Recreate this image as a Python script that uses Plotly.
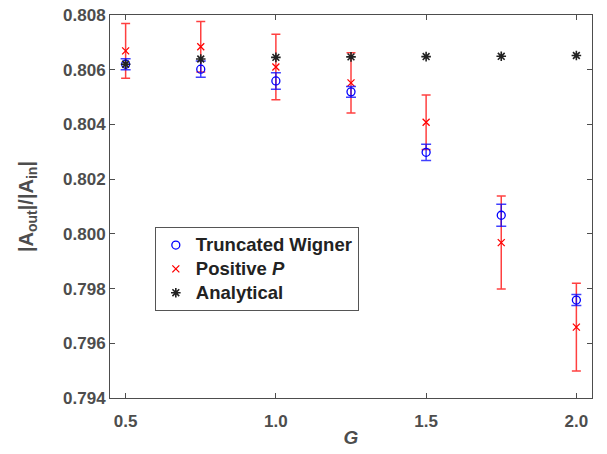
import plotly.graph_objects as go

G = [0.5, 0.75, 1.0, 1.25, 1.5, 1.75, 2.0]
tw_vals = [0.80620, 0.80602, 0.80559, 0.80519, 0.80298, 0.80068, 0.79758]
tw_err = [0.00020, 0.00030, 0.00030, 0.00020, 0.00030, 0.00040, 0.00020]
pp_vals = [0.80669, 0.80684, 0.80610, 0.80552, 0.80408, 0.79968, 0.79659]
pp_err = [0.00100, 0.00092, 0.00120, 0.00110, 0.00100, 0.00170, 0.00160]
an_vals = [0.80620, 0.80639, 0.80645, 0.80647, 0.80648, 0.80649, 0.80652]
y_ticks = [0.794, 0.796, 0.798, 0.800, 0.802, 0.804, 0.806, 0.808]
x_ticks = [0.5, 1.0, 1.5, 2.0]

FONT = "Liberation Sans"
AX = "#4d4d4d"


def big(s):
    return f"<span style='font-size:18.5px'>{s}</span>"


fig = go.Figure()
fig.add_trace(go.Scatter(
    x=G, y=pp_vals, mode="markers", name=big("Positive <i>P</i>"), legendrank=2,
    marker=dict(symbol="x-thin-open", size=7, color="red", line=dict(color="red", width=1.3)),
    error_y=dict(type="data", array=pp_err, visible=True, color="rgba(255,0,0,0.75)", thickness=1.5, width=4.5),
))
fig.add_trace(go.Scatter(
    x=G, y=tw_vals, mode="markers", name=big("Truncated Wigner"), legendrank=1,
    marker=dict(symbol="circle-open", size=8, color="blue", line=dict(color="blue", width=1.3)),
    error_y=dict(type="data", array=tw_err, visible=True, color="rgba(0,0,255,0.75)", thickness=1.5, width=5),
))
fig.add_trace(go.Scatter(
    x=G, y=an_vals, mode="markers", name=big("Analytical"), legendrank=3,
    marker=dict(symbol="asterisk-open", size=8, color="#222222", line=dict(color="#222222", width=1.6)),
))

fig.update_layout(
    width=607, height=454,
    margin=dict(l=110, r=15, t=15, b=56),
    paper_bgcolor="white", plot_bgcolor="white",
    font=dict(family=FONT, size=16, color=AX),
    showlegend=True,
    legend=dict(
        x=0.093, y=0.446, xanchor="left", yanchor="top",
        bordercolor="#555555", borderwidth=1, bgcolor="white",
        font=dict(family=FONT, size=16, color="#222222", weight="bold"),
        traceorder="normal", itemwidth=30, tracegroupgap=0,
    ),
)

fig.update_xaxes(
    range=[0.448, 2.052], tickvals=x_ticks, ticktext=[f"{v:.1f}" for v in x_ticks],
    ticks="inside", ticklen=5, tickcolor=AX, showline=True, linecolor=AX, linewidth=1,
    mirror="ticks", showgrid=False, zeroline=False, ticklabelstandoff=8, automargin=False,
    tickfont=dict(family=FONT, size=17, color=AX, weight="bold"),
    title=dict(text="<i>G</i>", font=dict(family=FONT, size=19, color=AX, weight="bold"), standoff=0),
)
fig.update_yaxes(
    range=[0.794, 0.808], tickvals=y_ticks, ticktext=[f"{v:.3f}" for v in y_ticks],
    ticks="inside", ticklen=5, tickcolor=AX, showline=True, linecolor=AX, linewidth=1,
    mirror="ticks", showgrid=False, zeroline=False, automargin=False,
    tickfont=dict(family=FONT, size=17, color=AX, weight="bold"),
    title=dict(text="|A<sub>out</sub>|/|A<sub>in</sub>|", font=dict(family=FONT, size=20, color=AX, weight="bold"), standoff=24),
)

fig.write_html("out.html")
